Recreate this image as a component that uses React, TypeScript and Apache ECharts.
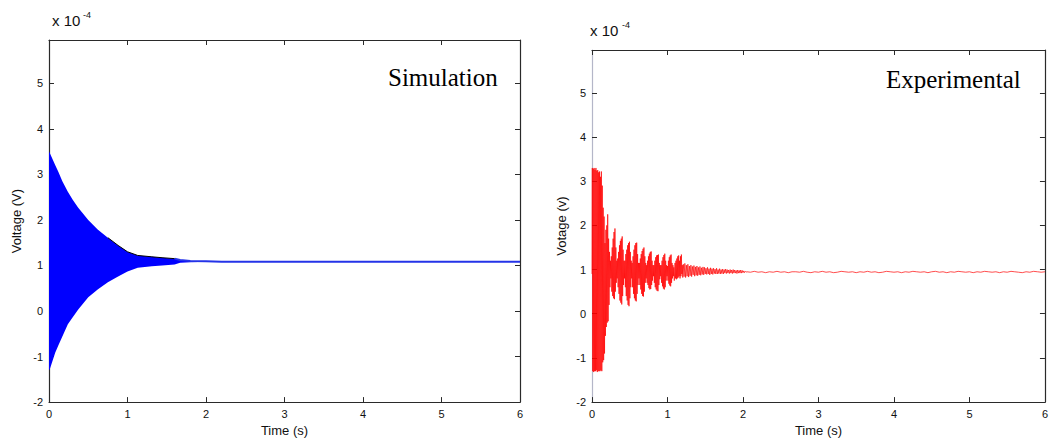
import React, { useEffect, useRef } from "react";
import * as echarts from "echarts";

// ---------- Simulation (left) : envelope of the dense oscillation ----------
const simT = [0, 0.01, 0.08, 0.12, 0.17, 0.24, 0.3, 0.37, 0.5, 0.62, 0.75, 0.88, 1.0, 1.13, 1.31, 1.44, 1.6, 1.67, 1.8, 2.0, 2.2, 6.0];
const simUpper = [3.5, 3.47, 3.2, 3.05, 2.85, 2.62, 2.45, 2.27, 2.0, 1.79, 1.61, 1.44, 1.3, 1.22, 1.19, 1.17, 1.15, 1.12, 1.1, 1.09, 1.08, 1.08];
const simLower = [-1.3, -1.28, -0.91, -0.75, -0.56, -0.29, -0.14, 0.03, 0.3, 0.47, 0.63, 0.76, 0.87, 0.95, 0.98, 1.0, 1.02, 1.06, 1.07, 1.08, 1.08, 1.08];

// ---------- Experimental (right) ----------
const expBurst: number[][] = [
  [0, 0.9], [0.004, 3.3], [0.01, -1.3], [0.016, 3.28], [0.022, -1.32], [0.028, 3.3], [0.034, -1.3], [0.04, 3.26],
  [0.046, -1.3], [0.052, 3.3], [0.058, -1.28], [0.064, 3.24], [0.07, -1.32], [0.076, 3.25], [0.082, -1.3], [0.088, 3.2],
  [0.094, -1.3], [0.1, 3.22], [0.106, -1.3], [0.112, 3.1], [0.118, -1.28], [0.124, 3.22], [0.13, -1.3], [0.136, 2.9],
  [0.142, -1.1], [0.148, 2.4], [0.154, -1.05], [0.16, 2.2], [0.166, -0.9], [0.172, 1.6], [0.178, -0.5], [0.184, 1.9],
  [0.19, -0.3], [0.196, 2.0], [0.202, -0.2], [0.208, 2.25], [0.214, -0.17], [0.22, 1.7], [0.226, 0.2], [0.232, 1.4],
  [0.238, 0.6], [0.244, 1.2], [0.25, 0.8],
];
const expDecay: number[][] = [
  [0.256, 1.3], [0.262, 0.5], [0.268, 1.5], [0.274, 0.4], [0.28, 1.7], [0.286, 0.35], [0.292, 1.85], [0.298, 0.33],
  [0.304, 1.93], [0.31, 0.5], [0.316, 1.5], [0.322, 0.7], [0.328, 1.2], [0.334, 0.8], [0.34, 1.25], [0.346, 0.6],
  [0.352, 1.4], [0.358, 0.45], [0.364, 1.55], [0.37, 0.3], [0.376, 1.65], [0.382, 0.25], [0.388, 1.7], [0.394, 0.21],
  [0.4, 1.75], [0.406, 0.4], [0.412, 1.45], [0.418, 0.65], [0.424, 1.2], [0.43, 0.8], [0.436, 1.2], [0.442, 0.6],
  [0.448, 1.35], [0.454, 0.4], [0.46, 1.45], [0.466, 0.3], [0.472, 1.55], [0.478, 0.2], [0.484, 1.6], [0.49, 0.17],
  [0.496, 1.63], [0.502, 0.35], [0.508, 1.4], [0.514, 0.6], [0.52, 1.2], [0.526, 0.8], [0.532, 1.15], [0.538, 0.6],
  [0.544, 1.3], [0.55, 0.45], [0.556, 1.45], [0.562, 0.35], [0.568, 1.55], [0.574, 0.3], [0.58, 1.6], [0.586, 0.28],
  [0.592, 1.61], [0.598, 0.45], [0.604, 1.35], [0.61, 0.65], [0.616, 1.15], [0.622, 0.8], [0.628, 1.15], [0.634, 0.65],
  [0.64, 1.25], [0.646, 0.55], [0.652, 1.35], [0.658, 0.45], [0.664, 1.42], [0.67, 0.4], [0.676, 1.47], [0.682, 0.39],
  [0.688, 1.5], [0.694, 0.5], [0.7, 1.3], [0.706, 0.7], [0.712, 1.15], [0.718, 0.8], [0.724, 1.1], [0.73, 0.7],
  [0.736, 1.2], [0.742, 0.65], [0.748, 1.3], [0.754, 0.58], [0.76, 1.36], [0.766, 0.55], [0.772, 1.4], [0.778, 0.56],
  [0.784, 1.41], [0.79, 0.65], [0.796, 1.2], [0.802, 0.75], [0.808, 1.1], [0.814, 0.85], [0.82, 1.1], [0.826, 0.7],
  [0.832, 1.2], [0.838, 0.6], [0.844, 1.28], [0.85, 0.55], [0.856, 1.32], [0.862, 0.52], [0.868, 1.33], [0.874, 0.51],
  [0.88, 1.34], [0.886, 0.65], [0.892, 1.15], [0.898, 0.78], [0.904, 1.1], [0.91, 0.85], [0.916, 1.1], [0.922, 0.7],
  [0.928, 1.2], [0.934, 0.62], [0.94, 1.28], [0.946, 0.57], [0.952, 1.33], [0.958, 0.55], [0.964, 1.36], [0.97, 0.6],
  [0.976, 1.2], [0.982, 0.75], [0.988, 1.1], [0.994, 0.85], [1.0, 1.08], [1.006, 0.75],
  [1.012, 1.2], [1.018, 0.68], [1.024, 1.28], [1.03, 0.64], [1.036, 1.32], [1.042, 0.62], [1.048, 1.34], [1.054, 0.7],
  [1.06, 1.15], [1.066, 0.8], [1.072, 1.1], [1.078, 0.85], [1.084, 1.05], [1.09, 0.75],
  [1.1, 1.15], [1.106, 0.8], [1.112, 1.2], [1.118, 0.78], [1.124, 1.25], [1.13, 0.8], [1.136, 1.3], [1.142, 0.82],
  [1.148, 1.32], [1.154, 0.85], [1.16, 1.2], [1.166, 0.8], [1.172, 1.3], [1.178, 0.85], [1.184, 1.34], [1.19, 0.9],
  [1.196, 1.1], [1.202, 0.82],
];
const expSettle: number[][] = [
  [1.21, 1.12], [1.22, 0.84], [1.23, 1.14], [1.24, 0.82], [1.25, 1.1], [1.26, 0.85], [1.27, 1.12], [1.28, 0.83],
  [1.29, 1.08], [1.3, 0.86], [1.31, 1.1], [1.32, 0.84], [1.33, 1.07], [1.34, 0.88], [1.35, 1.09], [1.36, 0.85],
  [1.37, 1.06], [1.38, 0.87], [1.39, 1.08], [1.4, 0.86], [1.41, 1.05], [1.42, 0.88], [1.43, 1.07], [1.44, 0.87],
  [1.45, 1.04], [1.46, 0.89], [1.47, 1.06], [1.48, 0.88], [1.49, 1.05], [1.5, 0.9], [1.51, 1.03], [1.52, 0.89],
  [1.53, 1.05], [1.54, 0.9], [1.55, 1.02], [1.56, 0.88], [1.57, 1.04], [1.58, 0.9], [1.59, 1.02], [1.6, 0.89],
  [1.61, 1.03], [1.62, 0.91], [1.63, 1.01], [1.64, 0.9], [1.65, 1.03], [1.66, 0.9], [1.67, 1.0], [1.68, 0.91],
  [1.69, 1.02], [1.7, 0.9], [1.71, 1.0], [1.72, 0.91], [1.73, 1.01], [1.74, 0.9], [1.75, 1.0], [1.76, 0.92],
  [1.77, 1.01], [1.78, 0.91], [1.79, 1.0], [1.8, 0.92], [1.81, 0.99], [1.82, 0.91], [1.83, 1.0], [1.84, 0.92],
  [1.85, 0.99], [1.86, 0.91], [1.87, 1.0], [1.88, 0.92], [1.89, 0.99], [1.9, 0.92], [1.91, 0.98], [1.92, 0.91],
  [1.93, 0.99], [1.94, 0.92], [1.95, 0.98], [1.96, 0.92], [1.97, 0.99], [1.98, 0.92], [1.99, 0.98], [2.0, 0.93],
  [2.01, 0.97], [2.02, 0.93], [2.03, 0.96], [2.04, 0.94], [2.05, 0.95],
];
const expSteady: number[][] = [
  [2.1, 0.94], [2.15, 0.96], [2.2, 0.94], [2.25, 0.95], [2.3, 0.93], [2.35, 0.95], [2.4, 0.94], [2.45, 0.96],
  [2.5, 0.94], [2.55, 0.95], [2.6, 0.93], [2.65, 0.95], [2.7, 0.95], [2.75, 0.94], [2.8, 0.96], [2.85, 0.94],
  [2.9, 0.93], [2.95, 0.95], [3.0, 0.94], [3.05, 0.96], [3.1, 0.94], [3.15, 0.95], [3.2, 0.93], [3.25, 0.94],
  [3.3, 0.96], [3.35, 0.95], [3.4, 0.94], [3.45, 0.95], [3.5, 0.93], [3.55, 0.95], [3.6, 0.94], [3.65, 0.96],
  [3.7, 0.94], [3.75, 0.95], [3.8, 0.93], [3.85, 0.94], [3.9, 0.96], [3.95, 0.95], [4.0, 0.94], [4.05, 0.95],
  [4.1, 0.93], [4.15, 0.95], [4.2, 0.94], [4.25, 0.96], [4.3, 0.95], [4.35, 0.94], [4.4, 0.95], [4.45, 0.93],
  [4.5, 0.95], [4.55, 0.96], [4.6, 0.94], [4.65, 0.95], [4.7, 0.93], [4.75, 0.95], [4.8, 0.94], [4.85, 0.96],
  [4.9, 0.95], [4.95, 0.94], [5.0, 0.95], [5.05, 0.93], [5.1, 0.95], [5.15, 0.94], [5.2, 0.96], [5.25, 0.95],
  [5.3, 0.94], [5.35, 0.95], [5.4, 0.93], [5.45, 0.95], [5.5, 0.94], [5.55, 0.96], [5.6, 0.95], [5.65, 0.94],
  [5.7, 0.93], [5.75, 0.95], [5.8, 0.94], [5.85, 0.96], [5.9, 0.95], [5.95, 0.94], [6.0, 0.95],
];

const titles = ["Simulation", "Experimental"];
const yNames = ["Voltage (V)", "Votage (v)"];
const xName = "Time (s)";
const xMin = 0, xMax = 6, xStep = 1;
const yMin = -2, yStep = 1;
const yMaxs = [5.95, 5.97];

const SANS = "'Liberation Sans', Arial, sans-serif";
const SERIF = "'Liberation Serif', 'Times New Roman', serif";
const AX = "#2a2a2a";
const BLUE = "#0000ff";

function makeAxes(g: number, leftAxisColor: string, yNameGap: number) {
  const tick = { inside: true, length: 5, lineStyle: { color: AX, width: 1 } };
  const lab = { fontSize: 11, color: "#111", fontFamily: SANS, margin: 6 };
  const xs = [
    {
      gridIndex: g, type: "value", min: xMin, max: xMax, interval: xStep, position: "bottom",
      axisLine: { onZero: false, lineStyle: { color: AX, width: 1.2 } },
      axisTick: tick, axisLabel: lab, splitLine: { show: false },
      name: xName, nameLocation: "middle", nameGap: 20,
      nameTextStyle: { fontSize: 13, color: "#111", fontFamily: SANS },
    },
    {
      gridIndex: g, type: "value", min: xMin, max: xMax, interval: xStep, position: "top",
      axisLine: { onZero: false, lineStyle: { color: AX, width: 1.2 } },
      axisTick: tick, axisLabel: { show: false }, splitLine: { show: false },
    },
  ];
  const ys = [
    {
      gridIndex: g, type: "value", min: yMin, max: yMaxs[g], interval: yStep, position: "left",
      axisLine: { onZero: false, lineStyle: { color: leftAxisColor, width: 1.2 } },
      axisTick: tick,
      axisLabel: { ...lab, formatter: (v: number) => (Number.isInteger(v) ? String(v) : "") },
      splitLine: { show: false },
      name: yNames[g], nameLocation: "middle", nameGap: yNameGap,
      nameTextStyle: { fontSize: 13, color: "#111", fontFamily: SANS },
    },
    {
      gridIndex: g, type: "value", min: yMin, max: yMaxs[g], interval: yStep, position: "right",
      axisLine: { onZero: false, lineStyle: { color: AX, width: 1.2 } },
      axisTick: tick, axisLabel: { show: false }, splitLine: { show: false },
    },
  ];
  return { xs, ys };
}

export default function App() {
  const ref = useRef<HTMLDivElement>(null);
  useEffect(() => {
    if (!ref.current) return;
    const chart = echarts.init(ref.current, null, { renderer: "svg" });
    const a0 = makeAxes(0, AX, 26);
    const a1 = makeAxes(1, "#b4b6c8", 24);

    const simBandData = simT.map((t, i) => [t, simUpper[i], simLower[i]]);
    const simSteadyData = simT.map((t, i) => [t, simUpper[i]]).filter((p) => p[0] >= 1.6);
    const simEdgeData = simT
      .map((t, i) => [t, simUpper[i]])
      .filter((p) => p[0] >= 0.75 && p[0] <= 1.6);
    const expData = [...expBurst, ...expDecay, ...expSettle, ...expSteady];

    chart.setOption({
      animation: false,
      backgroundColor: "#ffffff",
      grid: [
        { left: 49, top: 40, width: 471, height: 363 },
        { left: 592, top: 50, width: 454, height: 353 },
      ],
      xAxis: [...a0.xs, ...a1.xs],
      yAxis: [...a0.ys, ...a1.ys],
      series: [
        {
          type: "custom", xAxisIndex: 0, yAxisIndex: 0, data: simBandData,
          encode: { x: 0, y: [1, 2] }, silent: true,
          itemStyle: { color: BLUE, opacity: 1 },
          renderItem: (params: any, api: any) => {
            if (params.dataIndex !== 0) return null;
            const pts: number[][] = [];
            for (let i = 0; i < simT.length; i++) pts.push(api.coord([simT[i], simUpper[i]]));
            for (let i = simT.length - 1; i >= 0; i--) pts.push(api.coord([simT[i], simLower[i]]));
            return {
              type: "polygon",
              shape: { points: pts },
              style: { fill: BLUE, stroke: "none", opacity: 1 },
            };
          },
        },
        {
          type: "line", xAxisIndex: 0, yAxisIndex: 0, data: simSteadyData,
          symbol: "none", lineStyle: { width: 2, color: "#2433e8" }, silent: true,
        },
        {
          type: "line", xAxisIndex: 0, yAxisIndex: 0, data: simEdgeData,
          symbol: "none", lineStyle: { width: 1, color: "#000000" }, silent: true,
        },
        {
          type: "line", xAxisIndex: 2, yAxisIndex: 2, data: expData,
          symbol: "none", lineStyle: { width: 0.7, color: "#ff0000" }, silent: true,
        },
      ],
      graphic: [
        { type: "text", left: 52, top: 13, style: { text: "x 10", fontSize: 15, fontFamily: SANS, fill: "#111" } },
        { type: "text", left: 83, top: 10, style: { text: "-4", fontSize: 9, fontFamily: SANS, fill: "#111" } },
        { type: "text", left: 590, top: 23, style: { text: "x 10", fontSize: 15, fontFamily: SANS, fill: "#111" } },
        { type: "text", left: 622, top: 20, style: { text: "-4", fontSize: 9, fontFamily: SANS, fill: "#111" } },
        { type: "text", left: 388, top: 65, style: { text: titles[0], fontSize: 25, fontFamily: SERIF, fill: "#000" } },
        { type: "text", left: 886, top: 67, style: { text: titles[1], fontSize: 25, fontFamily: SERIF, fill: "#000" } },
      ],
    });
    return () => chart.dispose();
  }, []);
  return (
    <div
      ref={ref}
      style={{ position: "fixed", left: 0, top: 0, width: 1051, height: 442, background: "#fff" }}
    />
  );
}
